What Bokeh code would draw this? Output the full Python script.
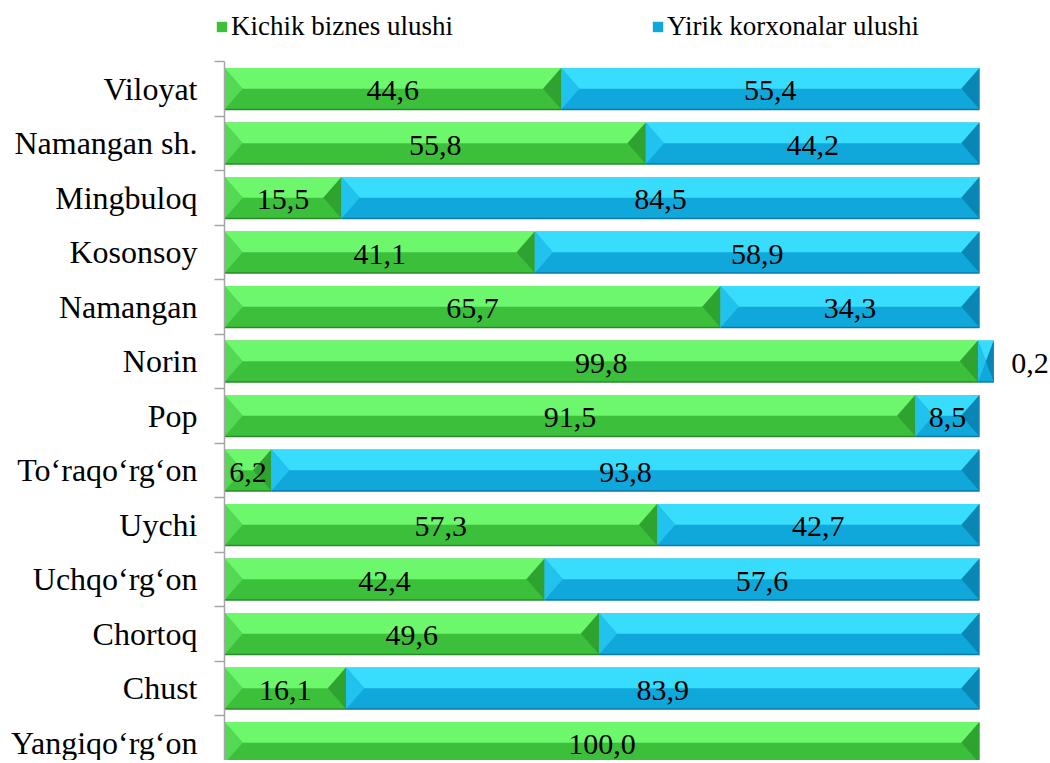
from bokeh.plotting import figure
from bokeh.models import Range1d, FixedTicker, Legend, LegendItem
from bokeh.core.properties import value
from bokeh.embed import file_html
from bokeh.resources import INLINE

categories = ["Viloyat", "Namangan sh.", "Mingbuloq", "Kosonsoy", "Namangan", "Norin", "Pop",
              "To\u2018raqo\u2018rg\u2018on", "Uychi", "Uchqo\u2018rg\u2018on", "Chortoq", "Chust",
              "Yangiqo\u2018rg\u2018on"]
small_business = [44.6, 55.8, 15.5, 41.1, 65.7, 99.8, 91.5, 6.2, 57.3, 42.4, 49.6, 16.1, 100.0]
large_enterprise = [55.4, 44.2, 84.5, 58.9, 34.3, 0.2, 8.5, 93.8, 42.7, 57.6, 50.4, 83.9, 0.0]
large_label_shown = [True, True, True, True, True, True, True, True, True, True, False, True, False]
series_names = ["Kichik biznes ulushi", "Yirik korxonalar ulushi"]

FONT = "Liberation Serif"
BAR_H = 0.76
BEVEL = 2.4
MIN_DRAWN = 2.1     # like the original renderer, a tiny non-zero segment keeps its bevel width

GREEN = dict(base="#3CC03C", top="#6DF76D", left="#55D855", right="#2FA32F", edge="#2A8A2A")
BLUE = dict(base="#10A8DA", top="#38DCFC", left="#22C2EE", right="#0A86B4", edge="#0A7AA6")

W = 1048
H = 760
ORIGIN_PX = 224     # px from frame left to x = 0
TOP_PX = 61         # px from frame top to the first category boundary
ROW_PX = 54.5
PX_PER_UNIT = 7.55

x_start = -ORIGIN_PX / PX_PER_UNIT
x_end = x_start + W / PX_PER_UNIT
y_top = -0.5 - TOP_PX / ROW_PX
y_bottom = y_top + H / ROW_PX

p = figure(width=W, height=H, output_backend="svg", toolbar_location=None,
           x_range=Range1d(x_start, x_end), y_range=Range1d(y_bottom, y_top),
           x_axis_location=None, min_border=0)
p.xgrid.visible = False
p.ygrid.visible = False
p.outline_line_color = None


def draw_series(fig, lefts, widths, rows, col):
    idx = [i for i in range(len(rows)) if widths[i] > 0]
    x0 = [lefts[i] for i in idx]
    x1 = [lefts[i] + max(widths[i], MIN_DRAWN) for i in idx]
    yy = [rows[i] for i in idx]
    h = BAR_H / 2
    base = fig.hbar(y=yy, left=x0, right=x1, height=BAR_H, fill_color=col["base"],
                    line_color=col["edge"], line_alpha=0)
    top_xs, top_ys, l_xs, l_ys, r_xs, r_ys = [], [], [], [], [], []
    for a, b, y in zip(x0, x1, yy):
        bv = min(BEVEL, (b - a) / 2)
        top_xs.append([a, b, b - bv, a + bv]); top_ys.append([y - h, y - h, y, y])
        l_xs.append([a, a + bv, a]); l_ys.append([y - h, y, y + h])
        r_xs.append([b, b, b - bv]); r_ys.append([y - h, y + h, y])
    fig.patches(top_xs, top_ys, fill_color=col["top"], line_color=None)
    fig.patches(l_xs, l_ys, fill_color=col["left"], line_color=None)
    fig.patches(r_xs, r_ys, fill_color=col["right"], line_color=None)
    fig.segment(x0=x0, y0=[y + h for y in yy], x1=x1, y1=[y + h for y in yy],
                line_color=col["edge"], line_width=1.5)
    return base


rows = list(range(len(categories)))
zeros = [0.0] * len(rows)

g_base = draw_series(p, zeros, small_business, rows, GREEN)
b_base = draw_series(p, small_business, large_enterprise, rows, BLUE)


def fmt(v):
    return f"{v:.1f}".replace(".", ",")


LABEL_SIZE = "30px"
gx = [v / 2 for v in small_business]
gl = [fmt(v) for v in small_business]
p.text(x=gx, y=rows, text=gl, text_font=value(FONT), text_font_size=LABEL_SIZE,
       text_align="center", text_baseline="middle", text_color="black", y_offset=2)

in_x, in_y, in_t, out_x, out_y, out_t = [], [], [], [], [], []
for i, (s, l, show) in enumerate(zip(small_business, large_enterprise, large_label_shown)):
    if not show:
        continue
    if l < 1:
        out_x.append(s + max(l, MIN_DRAWN) + 2.3); out_y.append(i); out_t.append(fmt(l))
    else:
        in_x.append(s + l / 2); in_y.append(i); in_t.append(fmt(l))
p.text(x=in_x, y=in_y, text=in_t, text_font=value(FONT), text_font_size=LABEL_SIZE,
       text_align="center", text_baseline="middle", text_color="black", y_offset=2)
p.text(x=out_x, y=out_y, text=out_t, text_font=value(FONT), text_font_size=LABEL_SIZE,
       text_align="left", text_baseline="middle", text_color="black", y_offset=2)

# y axis, pinned to x = 0 and limited to the category band
ax = p.yaxis[0]
ax.fixed_location = 0
ax.bounds = (-0.5, y_bottom)
ax.ticker = FixedTicker(ticks=rows, minor_ticks=[i - 0.5 for i in range(len(rows) + 1)])
ax.major_label_overrides = {i: c for i, c in enumerate(categories)}
ax.major_tick_line_color = None
ax.major_tick_out = 0
ax.major_tick_in = 0
ax.minor_tick_out = 10
ax.minor_tick_in = 0
ax.minor_tick_line_color = "#A6A6A6"
ax.minor_tick_line_width = 1.5
ax.axis_line_color = "#A6A6A6"
ax.axis_line_width = 1.5
ax.major_label_standoff = 17
ax.major_label_text_font = FONT
ax.major_label_text_font_size = "32px"
ax.major_label_text_color = "black"

legend = Legend(items=[LegendItem(label=series_names[0], renderers=[g_base]),
                       LegendItem(label=series_names[1], renderers=[b_base])],
                orientation="horizontal", location=(215, H - 42),
                padding=0, margin=0, spacing=20, label_width=400, label_standoff=3,
                glyph_width=13, glyph_height=13, border_line_color=None,
                background_fill_alpha=0, label_text_font=FONT,
                label_text_font_size="27px", label_text_color="black")
p.add_layout(legend, "center")

open("out.html", "w").write(file_html(p, INLINE))
